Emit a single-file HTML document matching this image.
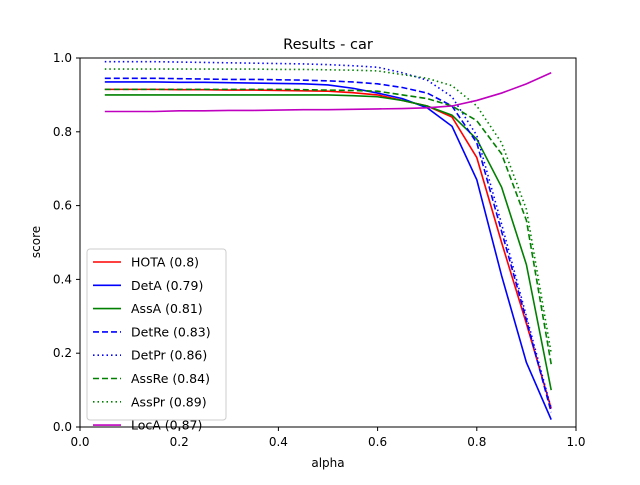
<!DOCTYPE html>
<html><head><meta charset="utf-8"><style>
body{margin:0;background:#fff;font-family:"Liberation Sans","DejaVu Sans",sans-serif}
text{font-family:"DejaVu Sans","Liberation Sans",sans-serif}
</style></head><body>
<svg id="chart" width="640" height="480" xmlns="http://www.w3.org/2000/svg">
<rect width="640" height="480" fill="#fff"/>
<text x="328" y="49" font-size="14.5" text-anchor="middle">Results - car</text>
<g id="plot"></g>
<rect x="80" y="58" width="496" height="369" fill="none" stroke="#000" stroke-width="1"/>
<text x="328" y="467" font-size="12" text-anchor="middle">alpha</text>
<text transform="translate(40,242) rotate(-90)" font-size="12" text-anchor="middle">score</text>
</svg>
<script>
const alphas=[0.05,0.1,0.15,0.2,0.25,0.3,0.35,0.4,0.45,0.5,0.55,0.6,0.65,0.7,0.75,0.8,0.85,0.9,0.95];
const xTicks=[0,0.2,0.4,0.6,0.8,1.0];
const yTicks=[0,0.2,0.4,0.6,0.8,1.0];
const seriesNames=["HOTA (0.8)","DetA (0.79)","AssA (0.81)","DetRe (0.83)","DetPr (0.86)","AssRe (0.84)","AssPr (0.89)","LocA (0.87)"];
const hota=[0.915,0.915,0.915,0.914,0.914,0.913,0.913,0.912,0.911,0.91,0.906,0.9,0.885,0.87,0.84,0.73,0.5,0.28,0.05];
const detA=[0.935,0.935,0.935,0.934,0.934,0.933,0.932,0.931,0.93,0.927,0.918,0.905,0.89,0.865,0.815,0.67,0.41,0.175,0.02];
const assA=[0.9,0.9,0.9,0.9,0.9,0.9,0.9,0.9,0.9,0.9,0.898,0.895,0.885,0.87,0.845,0.78,0.65,0.44,0.1];
const detRe=[0.945,0.945,0.945,0.944,0.943,0.942,0.942,0.941,0.94,0.938,0.935,0.93,0.92,0.905,0.87,0.77,0.53,0.29,0.04];
const detPr=[0.99,0.99,0.99,0.989,0.988,0.987,0.986,0.985,0.984,0.982,0.979,0.975,0.96,0.94,0.895,0.79,0.55,0.3,0.05];
const assRe=[0.915,0.915,0.915,0.915,0.915,0.915,0.915,0.915,0.914,0.913,0.912,0.91,0.9,0.89,0.87,0.83,0.74,0.56,0.17];
const assPr=[0.97,0.97,0.97,0.97,0.97,0.97,0.97,0.969,0.969,0.968,0.967,0.965,0.955,0.945,0.925,0.87,0.77,0.59,0.2];
const locA=[0.855,0.855,0.855,0.857,0.857,0.858,0.858,0.859,0.86,0.86,0.861,0.862,0.863,0.865,0.87,0.885,0.905,0.93,0.96];
const seriesData=[hota,detA,assA,detRe,detPr,assRe,assPr,locA];
const colors=["#ff0000","#0000ff","#008000","#0000ff","#0000ff","#008000","#008000","#bf00bf"];
const dashes=["","","","6,3","1.5,3","6,3","1.5,3",""];
const X=v=>80+496*v, Y=v=>427-369*v;
const NS="http://www.w3.org/2000/svg";
const g=document.getElementById('plot');
function mk(t,a){const e=document.createElementNS(NS,t);for(const k in a)e.setAttribute(k,a[k]);return e;}
xTicks.forEach(t=>{
  const l=mk('line',{x1:X(t),x2:X(t),y1:427,y2:431,stroke:'#000'});
  
  
  g.appendChild(l);
  const tx=mk('text',{x:X(t),y:446,'font-size':12,'text-anchor':'middle'});
  
  
  tx.textContent=t.toFixed(1);g.appendChild(tx);
});
yTicks.forEach(t=>{
  const l=mk('line',{x1:76,x2:80,y1:Y(t),y2:Y(t),stroke:'#000'});
  
  
  g.appendChild(l);
  const tx=mk('text',{x:72,y:Y(t)+4,'font-size':12,'text-anchor':'end'});
  
  
  tx.textContent=t.toFixed(1);g.appendChild(tx);
});
seriesData.forEach((d,i)=>{
  const pts=d.map((v,j)=>X(alphas[j])+','+Y(v)).join(' ');
  const p=mk('polyline',{points:pts,fill:'none',stroke:colors[i],'stroke-width':1.6});
  if(dashes[i])p.setAttribute('stroke-dasharray',dashes[i]);
  
  
  g.appendChild(p);
});
const lg=mk('rect',{x:87,y:249,width:139,height:171,rx:3,fill:'#fff','fill-opacity':0.8,stroke:'#ccc'});


g.appendChild(lg);
seriesNames.forEach((n,i)=>{
  const y=262+i*23.3;
  const l=mk('line',{x1:93,x2:121,y1:y,y2:y,stroke:colors[i],'stroke-width':1.6});
  if(dashes[i])l.setAttribute('stroke-dasharray',dashes[i]);
  
  
  g.appendChild(l);
  const t=mk('text',{x:131,y:y+4.5,'font-size':12.5});
  
  
  t.textContent=n;g.appendChild(t);
});
</script>
</body></html>
